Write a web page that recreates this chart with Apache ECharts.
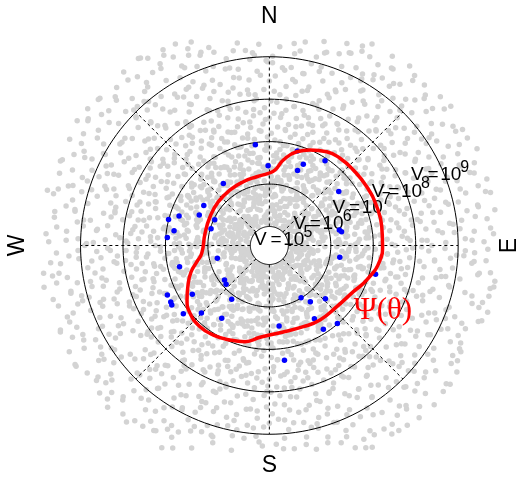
<!DOCTYPE html>
<html><head><meta charset="utf-8">
<script src="https://cdn.jsdelivr.net/npm/echarts@6/dist/echarts.min.js"></script>
<style>html,body{margin:0;padding:0;background:#fff}#c{width:521px;height:477px}</style>
</head><body><div id="c"></div>
<script>
// log10(V) at the pole of the log-polar plot
const POLE_LOGV = 4.5524;
const ringLevels = [5, 6, 7, 8, 9];          // V = 10^k circles
const spokeAngles = [0, 45, 90, 135, 180, 225, 270, 315];
const labelAngle = 22.5;
const compassLabels = ['N', 'E', 'S', 'W'];
const curveLabel = 'Ψ(θ)';

// red closed curve Psi(theta): [angle deg (0 = E, ccw), log10 V]
const psiCurve = [[359.7,7.219],[9.5,7.237],[19.9,7.242],[31.1,7.233],[42.0,7.213],[51.0,7.197],[58.5,7.143],[66.9,6.998],[73.7,6.854],[80.7,6.593],[85.7,6.336],[90.8,6.253],[100.4,6.200],[112.2,6.175],[125.3,6.155],[139.3,6.136],[154.1,6.105],[169.3,6.094],[186.6,6.156],[192.8,6.306],[198.7,6.500],[205.9,6.682],[213.5,6.878],[220.5,7.010],[229.5,7.067],[238.0,7.040],[247.4,6.963],[255.8,6.890],[264.2,6.726],[277.0,6.622],[292.7,6.626],[304.2,6.675],[317.8,6.697],[331.2,6.811],[340.5,6.987],[352.5,7.183]];

// blue events: [angle deg, log10 V]
const bluePoints = [[97.9,6.950],[73.5,6.874],[67.3,6.626],[69.4,6.440],[56.7,6.942],[90.9,6.432],[126.6,6.371],[37.9,6.624],[148.6,6.362],[161.9,6.790],[156.5,6.353],[154.8,5.974],[165.5,7.005],[171.2,6.824],[175.5,6.963],[163.9,5.982],[12.5,6.241],[10.8,6.284],[193.8,5.814],[350.6,6.234],[193.3,6.726],[344.8,7.145],[217.6,5.885],[221.9,5.922],[205.9,7.223],[212.3,6.699],[209.8,7.229],[211.4,7.245],[235.0,6.099],[301.3,5.991],[306.1,6.191],[316.5,6.372],[218.4,7.138],[224.8,6.809],[236.8,6.601],[301.6,6.577],[311.1,6.990],[302.8,6.901],[276.9,6.462],[277.5,7.278]];

// gray background events, flat pairs: angle deg, log10 V
const grayA = [
0,5.31,4,5.41,7,5.59,11,5.26,14,5.53,18,5.58,22,5.97,25,5.93,29,5.23,32,5.84,
36,5.62,40,5.64,43,5.33,47,5.83,50,5.27,54,5.95,58,5.02,61,5.88,65,5.41,68,5.97,
72,5.16,76,5.93,79,5.99,83,5.37,86,5.51,90,5.05,94,5.82,97,5.09,101,5.74,104,5.94,
108,5.45,112,5.92,115,5.30,119,5.78,122,5.16,126,5.40,130,5.62,133,5.86,137,5.20,140,5.89,
144,5.98,148,5.62,151,5.80,155,5.34,158,5.82,162,5.53,166,5.42,169,5.11,173,5.70,176,5.67,
180,5.98,184,5.21,187,5.48,191,5.08,194,5.65,198,5.13,202,5.28,205,5.23,209,5.06,212,5.64,
216,5.70,220,5.93,223,5.84,227,5.46,230,5.09,234,5.55,238,5.05,241,5.82,245,5.23,248,5.17,
252,5.25,256,5.35,259,5.94,263,5.08,266,5.12,270,5.84,274,5.81,277,5.11,281,5.74,284,5.50,
288,5.28,292,5.41,295,5.02,299,5.70,302,5.19,306,5.38,310,5.52,313,5.11,317,5.05,320,5.55,
324,5.96,328,5.44,331,5.62,335,5.29,338,5.48,342,5.95,346,5.49,349,5.30,353,5.38,356,5.19,
2,5.71,5,5.82,9,5.81,13,5.82,16,5.84,20,5.59,23,5.04,27,5.52,31,5.35,34,5.36,
38,5.02,41,5.87,45,5.47,49,5.13,52,5.52,56,5.66,59,5.24,63,5.97,67,5.75,70,5.72,
74,5.47,77,5.09,81,5.36,85,5.99,88,5.95,92,5.95,95,5.74,99,5.96,103,5.69,106,5.67,
110,5.62,113,5.77,117,5.24,121,5.07,124,5.66,128,5.30,131,5.35,135,5.35,139,5.47,142,5.59,
146,5.45,149,5.71,153,5.38,157,5.21,160,5.78,164,5.52,167,5.51,171,5.66,175,5.42,178,5.74,
182,5.27,185,5.46,189,5.63,193,5.91,196,5.93,200,5.20,203,5.03,207,5.05,211,5.99,214,5.21,
218,5.81,221,5.74,225,5.13,229,5.59,232,5.66,236,5.29,239,5.04,243,5.35,247,5.72,250,5.90,
254,5.03,257,5.34,261,5.29,265,5.52,268,5.60,272,5.59,275,5.56,279,5.30,283,5.73,286,5.81,
290,5.32,293,5.32,297,5.86,301,5.27,304,5.94,308,5.34,311,5.90,315,5.76,319,5.32,322,5.33,
326,5.82,329,5.98,333,5.80,337,5.75,340,5.31,344,5.95,347,5.25,351,5.10,355,5.19,358,5.01,
1,5.41,4,5.42,8,5.13,12,5.56,15,5.23,19,5.73,23,5.09,26,5.50,30,5.48,33,5.80,
37,5.16,41,5.88,44,5.72,48,5.42,51,5.09,55,5.69,59,5.80,62,5.78,66,5.56,69,5.96,
73,5.71,77,5.87,80,5.53,84,5.76,87,5.94,91,5.80,95,5.73,98,5.17,102,5.66,105,5.79,
109,5.73,113,5.79,116,5.90,120,5.73,123,5.24,127,5.78,131,5.46,134,5.21,138,5.07,141,5.03,
145,5.88,149,5.50,152,5.38,156,5.75,159,5.34,163,5.32,167,5.76,170,5.41,174,5.57,177,5.27,
181,5.35,185,5.01,188,5.38,192,5.46,195,5.23,199,5.09,203,5.12,206,5.29,210,5.70,213,5.24,
217,5.92,221,5.48,224,5.36,228,5.05,231,5.58,235,5.50,239,5.73,242,5.72,246,5.12,249,5.64,
253,5.41,257,5.21,260,5.49,264,5.70,267,5.99,271,5.93,275,5.58,278,5.31,282,5.41,285,5.32,
289,5.22,293,5.66,296,5.59,300,5.27,303,5.50,307,5.55,311,5.92,314,5.75,318,5.57,321,5.99,
325,5.95,329,5.00,332,5.50,336,5.11,339,5.52,343,5.78,347,5.20,350,5.60,354,5.57,357,5.14,
3,5.73,6,5.20,10,5.50,14,5.80,17,5.75,21,5.68,24,5.87,28,5.72,32,5.93,35,5.52,
39,5.74,42,5.46,46,5.34,50,5.15,53,5.05,57,5.87,60,5.23,64,5.66,68,5.94,71,5.28,
75,5.45,78,5.25,82,5.38,86,5.70,89,5.38,93,5.86,96,5.28,100,5.55,104,5.58,107,5.16,
111,5.97,114,5.94,118,5.51,122,5.93,125,5.30,129,5.16,132,5.90,136,5.88,140,5.00,143,5.37,
147,5.08,150,5.11,154,5.46,158,5.18,161,5.67,165,5.57,168,5.24,172,5.85,176,5.75,179,5.67,
183,5.56,186,5.26,190,5.14,194,5.14,197,5.15,201,5.40,204,5.67,208,5.03,212,5.02,215,5.99,
219,5.69,222,5.94,226,5.50,230,5.94,233,5.99,237,5.89,240,5.52,244,5.47,248,5.88,251,5.11,
255,5.65,258,5.55,262,5.12,266,5.09,269,5.43,273,5.73,276,5.64,280,5.85,284,5.28,287,5.09,
291,5.32,294,5.31,298,5.90,302,5.23,305,5.05,309,5.58,312,5.20,316,5.67,320,5.97,323,5.48,
327,5.20,330,5.10,334,5.10,338,5.84,341,5.67,345,5.49,348,5.23,352,5.26,356,5.50,359,5.15,
1.2,5.36,3.6,5.72,6,5.15,8.4,5.88,10.8,5.51,13.2,5.27,15.6,5.93,18,5.44,20.4,5.60,22.8,5.09,
25.2,5.81,27.6,5.33,30,5.57,32.4,5.19,34.8,5.96,37.2,5.42,39.6,5.70,42,5.25,44.4,5.64,46.8,5.03,
49.2,5.48,51.6,5.85,54,5.12,56.4,5.67,58.8,5.39,61.2,5.90,63.6,5.21,66,5.76,68.4,5.54,70.8,5.31,
73.2,5.07,75.6,5.62,78,5.94,80.4,5.28,82.8,5.73,85.2,5.46,87.6,5.18,90,5.83,92.4,5.35,94.8,5.59,
97.2,5.91,99.6,5.24,102,5.68,104.4,5.41,106.8,5.86,109.2,5.13,111.6,5.55,114,5.79,116.4,5.30,118.8,5.97,
121.2,5.52,123.6,5.16,126,5.74,128.4,5.37,130.8,5.99,133.2,5.63,135.6,5.26,138,5.81,140.4,5.45,142.8,5.10,
145.2,5.69,147.6,5.34,150,5.87,152.4,5.22,154.8,5.58,157.2,5.95,159.6,5.11,162,5.47,164.4,5.71,166.8,5.38,
169.2,5.84,171.6,5.05,174,5.61,176.4,5.29,178.8,5.92,181.2,5.53,183.6,5.17,186,5.76,188.4,5.40,190.8,5.66,
193.2,5.23,195.6,5.78,198,5.49,200.4,5.14,202.8,5.65,205.2,5.32,207.6,5.89,210,5.56,212.4,5.08,214.8,5.73,
217.2,5.43,219.6,5.98,222,5.26,224.4,5.71,226.8,5.35,229.2,5.82,231.6,5.57,234,5.19,236.4,5.64,238.8,5.91,
241.2,5.15,243.6,5.50,246,5.87,248.4,5.33,250.8,5.69,253.2,5.24,255.6,5.77,258,5.42,260.4,5.96,262.8,5.58,
265.2,5.30,267.6,5.63,270,5.04,272.4,5.85,274.8,5.47,277.2,5.18,279.6,5.72,282,5.39,284.4,5.92,286.8,5.27,
289.2,5.75,291.6,5.41,294,5.94,296.4,5.56,298.8,5.12,301.2,5.68,303.6,5.83,306,5.21,308.4,5.49,310.8,5.66,
313.2,5.99,315.6,5.28,318,5.53,320.4,5.16,322.8,5.81,325.2,5.37,327.6,5.60,330,5.88,332.4,5.14,334.8,5.45,
337.2,5.62,339.6,5.09,342,5.79,344.4,5.34,346.8,5.97,349.2,5.51,351.6,5.25,354,5.70,356.4,5.43,358.8,5.86];

const grayB = [
0,6.47,1,6.22,2,6.64,3,6.12,4,6.68,5,6.19,6,6.88,7,6.41,8,6.83,9,6.35,
10,6.95,11,6.40,12,6.63,13,6.07,14,6.72,15,6.91,16,6.53,17,6.05,18,6.20,19,6.86,
20,6.56,21,6.74,22,6.30,23,6.91,24,6.06,25,6.74,26,6.27,27,6.55,28,6.15,29,6.48,
30,6.81,31,6.60,32,6.13,33,6.39,34,6.38,35,6.77,36,6.67,37,6.99,38,6.36,39,6.14,
40,6.26,41,6.60,42,6.92,43,6.47,44,6.98,45,6.43,46,6.82,47,6.24,48,6.28,49,6.11,
50,6.85,51,6.70,52,6.64,53,6.50,54,6.59,55,6.90,56,6.09,57,6.03,58,6.33,59,6.67,
60,6.36,61,6.57,62,6.42,63,6.84,64,6.04,65,6.88,66,6.17,67,6.79,68,6.31,69,6.62,
70,6.45,71,6.75,72,6.95,73,6.18,74,6.02,75,6.48,76,6.71,77,6.58,78,6.25,79,6.36,
80,6.94,81,6.71,82,6.93,83,6.17,84,6.09,85,6.62,86,6.69,87,6.53,88,6.08,89,6.38,
90,6.86,91,6.85,92,6.80,93,6.31,94,6.29,95,6.26,96,6.64,97,6.50,98,6.51,99,6.19,
100,6.76,101,6.07,102,6.77,103,6.14,104,6.63,105,6.42,106,6.97,107,6.97,108,6.98,109,6.43,
110,6.34,111,6.05,112,6.68,113,6.82,114,6.58,115,6.21,116,6.15,117,6.23,118,6.56,119,6.45,
120,6.69,121,6.03,122,6.71,123,6.11,124,6.89,125,6.28,126,6.94,127,6.34,128,6.90,129,6.37,
130,6.66,131,6.55,132,6.72,133,6.12,134,6.10,135,6.16,136,6.80,137,6.66,138,6.50,139,6.47,
140,6.39,141,6.83,142,6.25,143,6.84,144,6.27,145,6.73,146,6.21,147,6.61,148,6.58,149,6.76,
150,6.04,151,6.94,152,6.49,153,6.89,154,6.17,155,6.03,156,6.45,157,6.40,158,6.87,159,6.76,
160,6.63,161,6.32,162,6.33,163,6.86,164,6.68,165,6.57,166,6.31,167,6.14,168,6.12,169,6.09,
170,6.95,171,6.96,172,6.75,173,6.57,174,6.68,175,6.52,176,6.25,177,6.21,178,6.28,179,6.79,
180,6.40,181,6.69,182,6.06,183,6.79,184,6.44,185,6.61,186,6.08,187,6.01,188,6.43,189,6.52,
190,6.87,191,6.89,192,6.87,193,6.35,194,6.18,195,6.30,196,6.78,197,6.73,198,6.65,199,6.16,
200,6.35,201,6.18,202,6.59,203,6.99,204,6.93,205,6.92,206,6.52,207,6.46,208,6.40,209,6.11,
210,6.74,211,6.13,212,6.86,213,6.02,214,6.71,215,6.47,216,6.59,217,6.55,218,6.70,219,6.35,
220,6.24,221,6.22,222,6.81,223,6.98,224,6.58,225,6.26,226,6.37,227,6.04,228,6.63,229,6.66,
230,6.93,231,6.97,232,6.05,233,6.37,234,6.14,235,6.83,236,6.64,237,6.49,238,6.46,239,6.29,
240,6.85,241,6.30,242,6.15,243,6.22,244,6.62,245,6.78,246,6.67,247,6.19,248,6.53,249,6.41,
250,6.91,251,6.91,252,6.10,253,6.54,254,6.40,255,6.78,256,6.07,257,6.67,258,6.54,259,6.77,
260,6.08,261,6.29,262,6.42,263,6.83,264,6.91,265,6.68,266,6.30,267,6.36,268,6.26,269,6.56,
270,6.60,271,6.85,272,6.97,273,6.07,274,6.11,275,6.24,276,6.83,277,6.49,278,6.62,279,6.44,
280,6.73,281,6.12,282,6.71,283,6.38,284,6.88,285,6.15,286,6.96,287,6.45,288,6.99,289,6.20,
290,6.74,291,6.38,292,6.57,293,6.01,294,6.56,295,6.64,296,6.59,297,6.24,298,6.02,299,6.36,
300,6.88,301,6.79,302,6.81,303,6.13,304,6.33,305,6.18,306,6.66,307,6.90,308,6.65,309,6.50,
310,6.45,311,6.49,312,6.32,313,6.16,314,6.93,315,6.77,316,6.61,317,6.27,318,6.03,319,6.84,
320,6.72,321,6.45,322,6.27,323,6.10,324,6.92,325,6.70,326,6.55,327,6.19,328,6.53,329,6.39,
330,6.58,331,6.08,332,6.20,333,6.84,334,6.95,335,6.87,336,6.27,337,6.39,338,6.46,339,6.70,
340,6.67,341,6.68,342,6.41,343,6.22,344,6.05,345,6.96,346,6.81,347,6.76,348,6.06,349,6.48,
350,6.33,351,6.62,352,6.14,353,6.92,354,6.35,355,6.76,356,6.60,357,6.80,358,6.59,359,6.14,
1.5,6.35,4.5,6.90,7.5,6.58,10.5,6.16,13.5,6.79,16.5,6.43,19.5,6.67,22.5,6.02,25.5,6.86,28.5,6.24,
31.5,6.51,34.5,6.75,37.5,6.08,40.5,6.94,43.5,6.39,46.5,6.62,49.5,6.27,52.5,6.83,55.5,6.46,58.5,6.12,
61.5,6.70,64.5,6.33,67.5,6.97,70.5,6.55,73.5,6.21,76.5,6.88,79.5,6.06,82.5,6.49,85.5,6.74,88.5,6.17,
91.5,6.92,94.5,6.41,97.5,6.63,100.5,6.28,103.5,6.85,106.5,6.10,109.5,6.57,112.5,6.36,115.5,6.99,118.5,6.65,
121.5,6.30,124.5,6.78,127.5,6.14,130.5,6.53,133.5,6.87,136.5,6.22,139.5,6.69,142.5,6.04,145.5,6.45,148.5,6.81,
151.5,6.18,154.5,6.60,157.5,6.96,160.5,6.37,163.5,6.73,166.5,6.09,169.5,6.52,172.5,6.84,175.5,6.26,178.5,6.67,
181.5,6.41,184.5,6.95,187.5,6.13,190.5,6.76,193.5,6.32,196.5,6.58,199.5,6.91,202.5,6.20,205.5,6.63,208.5,6.05,
211.5,6.84,214.5,6.47,217.5,6.29,220.5,6.71,223.5,6.11,226.5,6.90,229.5,6.54,232.5,6.38,235.5,6.66,238.5,6.23,
241.5,6.59,244.5,6.02,247.5,6.80,250.5,6.44,253.5,6.17,256.5,6.93,259.5,6.35,262.5,6.68,265.5,6.27,268.5,6.75,
271.5,6.09,274.5,6.62,277.5,6.48,280.5,6.86,283.5,6.31,286.5,6.73,289.5,6.15,292.5,6.99,295.5,6.56,298.5,6.40,
301.5,6.77,304.5,6.21,307.5,6.64,310.5,6.07,313.5,6.89,316.5,6.43,319.5,6.28,322.5,6.82,325.5,6.50,328.5,6.13,
331.5,6.96,334.5,6.37,337.5,6.71,340.5,6.19,343.5,6.55,346.5,6.83,349.5,6.04,352.5,6.66,355.5,6.42,358.5,6.88,
0.9,6.58,2.7,6.21,4.5,6.84,6.3,6.37,8.1,6.92,9.9,6.15,11.7,6.66,13.5,6.43,15.3,6.79,17.1,6.06,
18.9,6.31,20.7,6.74,22.5,6.52,24.3,6.97,26.1,6.18,27.9,6.63,29.7,6.40,31.5,6.87,33.3,6.25,35.1,6.69,
36.9,6.12,38.7,6.88,40.5,6.46,42.3,6.71,44.1,6.34,45.9,6.95,47.7,6.57,49.5,6.09,51.3,6.82,53.1,6.28,
54.9,6.64,56.7,6.39,58.5,6.91,60.3,6.17,62.1,6.53,63.9,6.76,65.7,6.02,67.5,6.48,69.3,6.85,71.1,6.33,
72.9,6.97,74.7,6.26,76.5,6.70,78.3,6.44,80.1,6.11,81.9,6.59,83.7,6.83,85.5,6.36,87.3,6.67,89.1,6.20,
90.9,6.45,92.7,6.81,94.5,6.08,96.3,6.62,98.1,6.30,99.9,6.94,101.7,6.55,103.5,6.23,105.3,6.74,107.1,6.13,
108.9,6.78,110.7,6.50,112.5,6.27,114.3,6.89,116.1,6.41,117.9,6.16,119.7,6.68,121.5,6.99,123.3,6.35,125.1,6.61,
126.9,6.04,128.7,6.73,130.5,6.56,132.3,6.32,134.1,6.86,135.9,6.47,137.7,6.22,139.5,6.65,141.3,6.90,143.1,6.38,
144.9,6.54,146.7,6.19,148.5,6.80,150.3,6.67,152.1,6.03,153.9,6.72,155.7,6.42,157.5,6.93,159.3,6.29,161.1,6.57,
162.9,6.87,164.7,6.34,166.5,6.61,168.3,6.14,170.1,6.49,171.9,6.98,173.7,6.25,175.5,6.76,177.3,6.10,179.1,6.45,
180.9,6.26,182.7,6.63,184.5,6.93,186.3,6.40,188.1,6.77,189.9,6.21,191.7,6.52,193.5,6.84,195.3,6.07,197.1,6.70,
198.9,6.69,200.7,6.08,202.5,6.47,204.3,6.83,206.1,6.24,207.9,6.60,209.7,6.96,211.5,6.37,213.3,6.58,215.1,6.15,
216.9,6.41,218.7,6.90,220.5,6.18,222.3,6.56,224.1,6.72,225.9,6.33,227.7,6.05,229.5,6.81,231.3,6.48,233.1,6.99,
234.9,6.83,236.7,6.27,238.5,6.75,240.3,6.02,242.1,6.44,243.9,6.89,245.7,6.63,247.5,6.17,249.3,6.92,251.1,6.51,
252.9,6.16,254.7,6.52,256.5,6.38,258.3,6.94,260.1,6.66,261.9,6.11,263.7,6.79,265.5,6.43,267.3,6.30,269.1,6.86,
270.9,6.92,272.7,6.45,274.5,6.64,276.3,6.28,278.1,6.85,279.9,6.53,281.7,6.20,283.5,6.71,285.3,6.59,287.1,6.04,
288.9,6.37,290.7,6.99,292.5,6.13,294.3,6.70,296.1,6.19,297.9,6.46,299.7,6.88,301.5,6.32,303.3,6.76,305.1,6.62,
306.9,6.73,308.7,6.06,310.5,6.58,312.3,6.47,314.1,6.91,315.9,6.24,317.7,6.67,319.5,6.14,321.3,6.53,323.1,6.35,
324.9,6.22,326.7,6.68,328.5,6.87,330.3,6.35,332.1,6.60,333.9,6.82,335.7,6.09,337.5,6.55,339.3,6.98,341.1,6.18,
342.9,6.50,344.7,6.31,346.5,6.71,348.3,6.96,350.1,6.12,351.9,6.39,353.7,6.74,355.5,6.27,357.3,6.43,359.1,6.85];

const grayC = [
0,7.52,1,7.18,2,7.87,3,7.33,4,7.69,5,7.04,6,7.75,7,7.41,8,7.96,9,7.27,
10,7.60,11,7.13,12,7.48,13,7.82,14,7.25,15,7.91,16,7.37,17,7.66,18,7.09,19,7.54,
20,7.79,21,7.30,22,7.62,23,7.15,24,7.88,25,7.43,26,7.71,27,7.06,28,7.57,29,7.94,
30,7.21,31,7.68,32,7.39,33,7.85,34,7.12,35,7.50,36,7.77,37,7.34,38,7.99,39,7.46,
40,7.03,41,7.63,42,7.28,43,7.90,44,7.45,45,7.17,46,7.72,47,7.58,48,7.31,49,7.86,
50,7.14,51,7.59,52,7.95,53,7.38,54,7.67,55,7.22,56,7.81,57,7.07,58,7.49,59,7.73,
60,7.36,61,7.84,62,7.10,63,7.53,64,7.26,65,7.92,66,7.64,67,7.19,68,7.78,69,7.41,
70,7.97,71,7.32,72,7.56,73,7.70,74,7.05,75,7.47,76,7.83,77,7.24,78,7.61,79,7.15,
80,7.88,81,7.44,82,7.29,83,7.76,84,7.01,85,7.58,86,7.35,87,7.93,88,7.67,89,7.20,
90,7.55,91,7.11,92,7.80,93,7.42,94,7.69,95,7.27,96,7.98,97,7.63,98,7.08,99,7.37,
100,7.74,101,7.23,102,7.51,103,7.87,104,7.16,105,7.45,106,7.89,107,7.34,108,7.72,109,7.06,
110,7.40,111,7.95,112,7.18,113,7.60,114,7.31,115,7.79,116,7.53,117,7.12,118,7.84,119,7.66,
120,7.28,121,7.71,122,7.02,123,7.49,124,7.91,125,7.35,126,7.76,127,7.57,128,7.20,129,7.83,
130,7.62,131,7.09,132,7.44,133,7.97,134,7.38,135,7.13,136,7.65,137,7.86,138,7.30,139,7.52,
140,7.17,141,7.78,142,7.59,143,7.25,144,7.73,145,7.46,146,7.04,147,7.90,148,7.39,149,7.68,
150,7.85,151,7.33,152,7.14,153,7.62,154,7.94,155,7.21,156,7.50,157,7.77,158,7.08,159,7.43,
160,7.99,161,7.56,162,7.37,163,7.81,164,7.11,165,7.68,166,7.26,167,7.45,168,7.92,169,7.70,
170,7.06,171,7.48,172,7.75,173,7.30,174,7.57,175,7.83,176,7.19,177,7.64,178,7.35,179,7.89,
180,7.24,181,7.67,182,7.93,183,7.12,184,7.42,185,7.70,186,7.96,187,7.03,188,7.58,189,7.31,
190,7.73,191,7.16,192,7.54,193,7.88,194,7.29,195,7.61,196,7.40,197,7.85,198,7.14,199,7.77,
200,7.47,201,7.91,202,7.05,203,7.36,204,7.80,205,7.23,206,7.69,207,7.52,208,7.97,209,7.10,
210,7.63,211,7.38,212,7.82,213,7.17,214,7.55,215,7.94,216,7.32,217,7.76,218,7.44,219,7.01,
220,7.89,221,7.26,222,7.58,223,7.71,224,7.07,225,7.47,226,7.86,227,7.21,228,7.65,229,7.34,
230,7.12,231,7.79,232,7.43,233,7.95,234,7.61,235,7.18,236,7.53,237,7.90,238,7.27,239,7.68,
240,7.50,241,7.04,242,7.87,243,7.39,244,7.74,245,7.33,246,7.08,247,7.62,248,7.81,249,7.45,
250,7.96,251,7.57,252,7.22,253,7.66,254,7.13,255,7.85,256,7.48,257,7.29,258,7.71,259,7.37,
260,7.35,261,7.83,262,7.60,263,7.02,264,7.92,265,7.54,266,7.17,267,7.78,268,7.46,269,7.99,
270,7.70,271,7.19,272,7.41,273,7.89,274,7.25,275,7.64,276,7.93,277,7.11,278,7.56,279,7.80,
280,7.08,281,7.72,282,7.31,283,7.57,284,7.84,285,7.40,286,7.66,287,7.98,288,7.15,289,7.49,
290,7.61,291,7.44,292,7.97,293,7.20,294,7.36,295,7.76,296,7.03,297,7.52,298,7.87,299,7.26,
300,7.82,301,7.10,302,7.68,303,7.47,304,7.99,305,7.15,306,7.58,307,7.34,308,7.73,309,7.91,
310,7.27,311,7.63,312,7.35,313,7.81,314,7.06,315,7.92,316,7.41,317,7.67,318,7.18,319,7.54,
320,7.94,321,7.39,322,7.76,323,7.14,324,7.51,325,7.28,326,7.85,327,7.09,328,7.60,329,7.43,
330,7.45,331,7.88,332,7.02,333,7.73,334,7.32,335,7.69,336,7.21,337,7.96,338,7.37,339,7.75,
340,7.16,341,7.55,342,7.90,343,7.40,344,7.78,345,7.07,346,7.62,347,7.48,348,7.83,349,7.30,
350,7.71,351,7.26,352,7.49,353,7.65,354,7.19,355,7.87,356,7.34,357,7.58,358,7.05,359,7.93,
0.6,7.44,3,7.81,5.4,7.17,7.8,7.63,10.2,7.95,12.6,7.28,15,7.72,17.4,7.06,19.8,7.53,22.2,7.39,
24.6,7.87,27,7.12,29.4,7.58,31.8,7.34,34.2,7.76,36.6,7.91,39,7.23,41.4,7.65,43.8,7.48,46.2,7.02,
48.6,7.61,51,7.29,53.4,7.94,55.8,7.47,58.2,7.15,60.6,7.83,63,7.38,65.4,7.70,67.8,7.09,70.2,7.56,
72.6,7.19,75,7.73,77.4,7.42,79.8,7.88,82.2,7.31,84.6,7.67,87,7.04,89.4,7.96,91.8,7.52,94.2,7.25,
96.6,7.78,99,7.50,101.4,7.13,103.8,7.62,106.2,7.99,108.6,7.36,111,7.84,113.4,7.21,115.8,7.57,118.2,7.43,
120.6,7.33,123,7.92,125.4,7.68,127.8,7.07,130.2,7.45,132.6,7.80,135,7.26,137.4,7.59,139.8,7.14,142.2,7.71,
144.6,7.96,147,7.24,149.4,7.51,151.8,7.85,154.2,7.18,156.6,7.64,159,7.41,161.4,7.77,163.8,7.03,166.2,7.89,
168.6,7.57,171,7.08,173.4,7.79,175.8,7.36,178.2,7.93,180.6,7.12,183,7.69,185.4,7.46,187.8,7.84,190.2,7.30,
192.6,7.11,195,7.66,197.4,7.40,199.8,7.97,202.2,7.54,204.6,7.27,207,7.88,209.4,7.15,211.8,7.72,214.2,7.48,
216.6,7.82,219,7.35,221.4,7.63,223.8,7.20,226.2,7.71,228.6,7.49,231,7.05,233.4,7.91,235.8,7.38,238.2,7.60,
240.6,7.27,243,7.90,245.4,7.16,247.8,7.74,250.2,7.43,252.6,7.98,255,7.57,257.4,7.32,259.8,7.66,262.2,7.13,
264.6,7.69,267,7.03,269.4,7.86,271.8,7.52,274.2,7.25,276.6,7.61,279,7.94,281.4,7.18,283.8,7.45,286.2,7.80,
288.6,7.42,291,7.75,293.4,7.31,295.8,7.89,298.2,7.08,300.6,7.53,303,7.76,305.4,7.64,307.8,7.22,310.2,7.97,
312.6,7.91,315,7.48,317.4,7.65,319.8,7.14,322.2,7.82,324.6,7.37,327,7.19,329.4,7.73,331.8,7.56,334.2,7.04,
336.6,7.16,339,7.59,341.4,7.98,343.8,7.41,346.2,7.67,348.6,7.23,351,7.85,353.4,7.50,355.8,7.34,358.2,7.78];

const grayD = [
0,8.38,1,8.71,2,8.15,4,8.92,5,8.54,6,8.26,7,8.83,8,8.47,10,8.09,11,8.66,
12,8.21,13,8.88,14,8.43,16,8.60,17,8.12,18,8.79,19,8.35,20,8.97,22,8.58,23,8.04,
24,8.74,25,8.30,26,8.66,28,8.19,29,8.85,30,8.51,31,8.02,32,8.69,34,8.41,35,8.93,
36,8.17,37,8.56,38,8.89,40,8.33,41,8.76,42,8.08,43,8.62,44,8.45,46,8.98,47,8.24,
48,8.80,49,8.13,50,8.49,52,8.71,53,8.37,54,8.94,55,8.22,56,8.57,58,8.06,59,8.83,
60,8.45,61,8.99,62,8.28,64,8.64,65,8.10,66,8.75,67,8.53,68,8.31,70,8.87,71,8.16,
72,8.63,73,8.05,74,8.82,76,8.40,77,8.95,78,8.27,79,8.68,80,8.14,82,8.50,83,8.78,
84,8.32,85,8.70,86,8.11,88,8.55,89,8.86,90,8.43,91,8.91,92,8.23,94,8.67,95,8.02,
96,8.96,97,8.48,98,8.25,100,8.77,101,8.18,102,8.60,103,8.36,104,8.84,106,8.09,107,8.52,
108,8.14,109,8.67,110,8.93,112,8.29,113,8.58,114,8.03,115,8.81,116,8.46,118,8.72,119,8.35,
120,8.59,121,8.22,122,8.76,124,8.07,125,8.44,126,8.89,127,8.15,128,8.63,130,8.98,131,8.30,
132,8.85,133,8.41,134,8.57,136,8.92,137,8.26,138,8.71,139,8.04,140,8.38,142,8.65,143,8.19,
144,8.02,145,8.79,146,8.34,148,8.68,149,8.13,150,8.50,151,8.97,152,8.21,154,8.83,155,8.47,
156,8.73,157,8.16,158,8.88,160,8.45,161,8.61,162,8.35,163,8.09,164,8.77,166,8.28,167,8.94,
168,8.27,169,8.53,170,8.06,172,8.81,173,8.39,174,8.96,175,8.64,176,8.18,178,8.42,179,8.70,
180,8.90,181,8.36,182,8.62,184,8.14,185,8.75,186,8.23,187,8.86,188,8.51,190,8.03,191,8.57,
192,8.48,193,8.84,194,8.19,196,8.97,197,8.30,198,8.66,199,8.42,200,8.73,202,8.11,203,8.89,
204,8.65,205,8.08,206,8.44,208,8.58,209,8.87,210,8.12,211,8.78,212,8.34,214,8.95,215,8.25,
216,8.11,217,8.92,218,8.71,220,8.37,221,8.02,222,8.54,223,8.27,224,8.88,226,8.61,227,8.43,
228,8.76,229,8.29,230,8.50,232,8.83,233,8.64,234,8.40,235,8.17,236,8.06,238,8.79,239,8.99,
240,8.33,241,8.60,242,8.94,244,8.20,245,8.48,246,8.85,247,8.70,248,8.55,250,8.24,251,8.13,
252,8.57,253,8.04,254,8.39,256,8.72,257,8.91,258,8.18,259,8.61,260,8.96,262,8.45,263,8.82,
264,8.20,265,8.87,266,8.63,268,8.09,269,8.36,270,8.74,271,8.52,272,8.29,274,8.10,275,8.68,
276,8.91,277,8.46,278,8.15,280,8.54,281,8.80,282,8.01,283,8.95,284,8.43,286,8.77,287,8.37,
288,8.42,289,8.75,290,8.99,292,8.31,293,8.67,294,8.24,295,8.13,296,8.86,298,8.56,299,8.06,
300,8.69,301,8.18,302,8.53,304,8.87,305,8.05,306,8.62,307,8.38,308,8.72,310,8.92,311,8.28,
312,8.08,313,8.94,314,8.32,316,8.47,317,8.73,318,8.96,319,8.20,320,8.59,322,8.35,323,8.84,
324,8.50,325,8.27,326,8.81,328,8.16,329,8.43,330,8.58,331,8.89,332,8.07,334,8.66,335,8.12,
336,8.86,337,8.63,338,8.04,340,8.98,341,8.22,342,8.35,343,8.74,344,8.49,346,8.17,347,8.91,
348,8.24,349,8.55,350,8.77,352,8.61,353,8.90,354,8.11,355,8.46,356,8.83,358,8.31,359,8.69,
1.8,8.27,4.2,8.64,6.6,8.91,9,8.15,11.4,8.48,13.8,8.83,16.2,8.36,18.6,8.70,21,8.05,23.4,8.59,
25.8,8.72,28.2,8.18,30.6,8.55,33,8.96,35.4,8.33,37.8,8.67,40.2,8.09,42.6,8.44,45,8.81,47.4,8.26,
49.8,8.40,52.2,8.87,54.6,8.13,57,8.61,59.4,8.78,61.8,8.22,64.2,8.95,66.6,8.50,69,8.37,71.4,8.04,
73.8,8.93,76.2,8.31,78.6,8.68,81,8.46,83.4,8.02,85.8,8.75,88.2,8.19,90.6,8.88,93,8.57,95.4,8.12,
97.8,8.15,100.2,8.56,102.6,8.84,105,8.29,107.4,8.97,109.8,8.41,112.2,8.63,114.6,8.07,117,8.74,119.4,8.38,
121.8,8.66,124.2,8.03,126.6,8.47,129,8.82,131.4,8.24,133.8,8.59,136.2,8.90,138.6,8.35,141,8.16,143.4,8.79,
145.8,8.81,148.2,8.45,150.6,8.20,153,8.73,155.4,8.58,157.8,8.11,160.2,8.67,162.6,8.94,165,8.42,167.4,8.28,
169.8,8.34,172.2,8.97,174.6,8.62,177,8.08,179.4,8.86,181.8,8.30,184.2,8.53,186.6,8.17,189,8.71,191.4,8.85,
193.8,8.58,196.2,8.22,198.6,8.76,201,8.39,203.4,8.14,205.8,8.92,208.2,8.45,210.6,8.63,213,8.99,215.4,8.06,
217.8,8.07,220.2,8.70,222.6,8.35,225,8.87,227.4,8.51,229.8,8.26,232.2,8.81,234.6,8.02,237,8.48,239.4,8.64,
241.8,8.89,244.2,8.14,246.6,8.56,249,8.23,251.4,8.68,253.8,8.95,256.2,8.37,258.6,8.76,261,8.10,263.4,8.43,
265.8,8.46,268.2,8.83,270.6,8.01,273,8.65,275.4,8.32,277.8,8.77,280.2,8.18,282.6,8.52,285,8.90,287.4,8.21,
289.8,8.63,292.2,8.28,294.6,8.94,297,8.47,299.4,8.11,301.8,8.54,304.2,8.86,306.6,8.39,309,8.25,311.4,8.71,
313.8,8.19,316.2,8.58,318.6,8.72,321,8.96,323.4,8.43,325.8,8.08,328.2,8.61,330.6,8.84,333,8.33,335.4,8.50,
337.8,8.76,340.2,8.39,342.6,8.10,345,8.54,347.4,8.88,349.8,8.67,352.2,8.23,354.6,8.46,357,8.97,359.4,8.14];

const grayE = [
1,9.61,2,9.17,3,9.84,4,9.39,5,9.06,7,9.72,8,9.45,9,9.93,10,9.28,11,9.55,
13,9.12,14,9.80,15,9.34,16,9.67,17,9.91,19,9.23,20,9.58,21,9.04,22,9.76,23,9.41,
25,9.95,26,9.49,27,9.15,28,9.62,29,9.37,31,9.86,32,9.20,33,9.71,34,9.09,35,9.53,
37,9.33,38,9.78,39,9.02,40,9.57,41,9.89,43,9.14,44,9.66,45,9.40,46,9.81,47,9.26,
49,9.70,50,9.08,51,9.44,52,9.92,53,9.25,55,9.63,56,9.31,57,9.87,58,9.16,59,9.52,
61,9.04,62,9.59,63,9.88,64,9.21,65,9.74,67,9.47,68,9.10,69,9.65,70,9.36,71,9.94,
73,9.82,74,9.27,75,9.53,76,9.13,77,9.68,79,9.96,80,9.42,81,9.19,82,9.77,83,9.35,
85,9.46,86,9.90,87,9.24,88,9.75,89,9.01,91,9.56,92,9.83,93,9.30,94,9.62,95,9.11,
97,9.18,98,9.64,99,9.38,100,9.85,101,9.50,103,9.07,104,9.73,105,9.95,106,9.29,107,9.43,
109,9.87,110,9.32,111,9.69,112,9.10,113,9.42,115,9.79,116,9.26,117,9.54,118,9.03,119,9.68,
121,9.55,122,9.14,123,9.81,124,9.47,125,9.93,127,9.36,128,9.60,129,9.22,130,9.89,131,9.05,
133,9.29,134,9.73,135,9.07,136,9.60,137,9.18,139,9.84,140,9.49,141,9.12,142,9.57,143,9.91,
145,9.76,146,9.41,147,9.95,148,9.33,149,9.66,151,9.02,152,9.88,153,9.45,154,9.20,155,9.63,
157,9.09,158,9.86,159,9.52,160,9.24,161,9.78,163,9.39,164,9.15,165,9.70,166,9.94,167,9.31,
169,9.43,170,9.20,171,9.67,172,9.96,173,9.11,175,9.58,176,9.34,177,9.82,178,9.06,179,9.75,
181,9.92,182,9.57,183,9.28,184,9.05,185,9.49,187,9.91,188,9.71,189,9.37,190,9.64,191,9.16,
193,9.35,194,9.80,195,9.13,196,9.72,197,9.27,199,9.44,200,9.03,201,9.59,202,9.86,203,9.48,
205,9.67,206,9.03,207,9.46,208,9.89,209,9.54,211,9.19,212,9.92,213,9.26,214,9.40,215,9.79,
217,9.14,218,9.72,219,9.36,220,9.58,221,9.85,223,9.63,224,9.08,225,9.94,226,9.51,227,9.23,
229,9.81,230,9.25,231,9.90,232,9.17,233,9.40,235,9.75,236,9.55,237,9.11,238,9.69,239,9.37,
241,9.50,242,9.95,243,9.62,244,9.44,245,9.08,247,9.30,248,9.87,249,9.66,250,9.22,251,9.04,
253,9.23,254,9.39,255,9.74,256,9.83,257,9.61,259,9.12,260,9.46,261,9.77,262,9.90,263,9.58,
265,9.69,266,9.06,267,9.19,268,9.28,269,9.94,271,9.85,272,9.24,273,9.53,274,9.35,275,9.82,
277,9.38,278,9.83,279,9.57,280,9.68,281,9.15,283,9.48,284,9.79,285,9.01,286,9.73,287,9.27,
289,9.96,290,9.50,291,9.01,292,9.41,293,9.73,295,9.21,296,9.63,297,9.89,298,9.12,299,9.65,
301,9.02,302,9.65,303,9.85,304,9.30,305,9.87,307,9.56,308,9.17,309,9.42,310,9.58,311,9.93,
313,9.74,314,9.18,315,9.40,316,9.95,317,9.32,319,9.07,320,9.90,321,9.29,322,9.84,323,9.46,
325,9.27,326,9.88,327,9.66,328,9.12,329,9.59,331,9.71,332,9.38,333,9.61,334,9.05,335,9.19,
337,9.57,338,9.44,339,9.23,340,9.79,341,9.03,343,9.93,344,9.52,345,9.75,346,9.47,347,9.86,
349,9.85,350,9.11,351,9.93,352,9.51,353,9.80,355,9.34,356,9.67,357,9.14,358,9.39,359,9.70,
1.5,9.33,4.5,9.78,7.5,9.12,10.5,9.56,13.5,9.91,16.5,9.24,19.5,9.67,22.5,9.45,25.5,9.03,28.5,9.86,
31.5,9.70,34.5,9.19,37.5,9.94,40.5,9.41,43.5,9.58,46.5,9.08,49.5,9.82,52.5,9.36,55.5,9.63,58.5,9.27,
61.5,9.15,64.5,9.62,67.5,9.47,70.5,9.89,73.5,9.30,76.5,9.75,79.5,9.53,82.5,9.11,85.5,9.96,88.5,9.40,
91.5,9.88,94.5,9.05,97.5,9.71,100.5,9.22,103.5,9.64,106.5,9.93,109.5,9.38,112.5,9.57,115.5,9.19,118.5,9.80,
121.5,9.44,124.5,9.91,127.5,9.26,130.5,9.68,133.5,9.07,136.5,9.52,139.5,9.85,142.5,9.31,145.5,9.74,148.5,9.13,
151.5,9.59,154.5,9.37,157.5,9.83,160.5,9.10,163.5,9.49,166.5,9.78,169.5,9.21,172.5,9.66,175.5,9.95,178.5,9.34,
181.5,9.06,184.5,9.72,187.5,9.55,190.5,9.95,193.5,9.36,196.5,9.14,199.5,9.60,202.5,9.88,205.5,9.42,208.5,9.21,
211.5,9.92,214.5,9.28,217.5,9.64,220.5,9.43,223.5,9.81,226.5,9.57,229.5,9.02,232.5,9.76,235.5,9.29,238.5,9.67,
241.5,9.38,244.5,9.84,247.5,9.17,250.5,9.73,253.5,9.25,256.5,9.96,259.5,9.46,262.5,9.13,265.5,9.58,268.5,9.90,
271.5,9.77,274.5,9.11,277.5,9.60,280.5,9.32,283.5,9.94,286.5,9.40,289.5,9.71,292.5,9.27,295.5,9.83,298.5,9.52,
301.5,9.23,304.5,9.66,307.5,9.89,310.5,9.51,313.5,9.16,316.5,9.62,319.5,9.35,322.5,9.92,325.5,9.08,328.5,9.75,
331.5,9.65,334.5,9.48,337.5,9.04,340.5,9.86,343.5,9.70,346.5,9.29,349.5,9.93,352.5,9.54,355.5,9.39,358.5,9.17];

// ---------- helpers: log-polar -> plane coordinates (units of log10 V) ----------
function toPlane(angleDeg, logV) {
  const r = logV - POLE_LOGV, t = angleDeg * Math.PI / 180;
  return [r * Math.cos(t), r * Math.sin(t)];
}
function pairsToPlane(flat) {
  const out = [];
  for (let i = 0; i < flat.length; i += 2) out.push(toPlane(flat[i], flat[i + 1]));
  return out;
}
function circlePts(level) {
  const out = [];
  for (let a = 0; a <= 360; a += 2) out.push(toPlane(a, level));
  return out;
}

const FONT = '"Liberation Sans", Arial, Helvetica, sans-serif';
const grayData = pairsToPlane([].concat(grayA, grayB, grayC, grayD, grayE));
const series = [];

series.push({
  type: 'scatter', data: grayData, symbol: 'circle', symbolSize: 5.5, z: 1,
  itemStyle: { color: '#d3d3d3', opacity: 1 }, silent: true, large: false, progressive: 0, clip: true
});

ringLevels.slice(1).forEach(function (k) {
  series.push({
    type: 'line', data: circlePts(k), showSymbol: false, symbol: 'none', z: 2, silent: true,
    lineStyle: { color: '#000', width: 1 }, clip: false
  });
});

spokeAngles.forEach(function (a) {
  series.push({
    type: 'line', data: [toPlane(a, ringLevels[0]), toPlane(a, ringLevels[ringLevels.length - 1])],
    showSymbol: false, symbol: 'none', z: 2, silent: true,
    lineStyle: { color: '#000', width: 1, type: [3, 3] }
  });
});

// inner white disc V = 10^5
series.push({
  type: 'custom', coordinateSystem: 'cartesian2d', data: [[0, 0]], z: 3, silent: true,
  renderItem: function (params, api) {
    const pts = [];
    for (let a = 0; a < 360; a += 3) pts.push(api.coord(toPlane(a, ringLevels[0])));
    return { type: 'polygon', shape: { points: pts }, style: { fill: '#fff', stroke: '#000', lineWidth: 1 } };
  }
});

// level labels V = 10^k : base text right-aligned, exponent left-aligned at the same junction
const labelAnchors = ringLevels.map(function (k) { return { value: toPlane(labelAngle, k), name: String(k) }; });
series.push({
  type: 'scatter', z: 4, silent: true, symbolSize: 0,
  itemStyle: { color: '#000', opacity: 1 }, data: labelAnchors,
  label: {
    show: true, position: 'inside', offset: [17.5, 2], align: 'right', verticalAlign: 'middle',
    formatter: 'V\u2009=\u200A10', fontSize: 19, fontFamily: FONT, color: '#000', opacity: 1, textBorderWidth: 0
  }
});
series.push({
  type: 'scatter', z: 4, silent: true, symbolSize: 0,
  itemStyle: { color: '#000', opacity: 1 }, data: labelAnchors,
  label: {
    show: true, position: 'inside', offset: [16.5, -5.7], align: 'left', verticalAlign: 'middle',
    formatter: function (p) { return p.name; }, fontSize: 16, fontFamily: FONT, color: '#000', opacity: 1, textBorderWidth: 0
  }
});

series.push({
  type: 'scatter', z: 5, silent: true, symbolSize: 5.5,
  itemStyle: { color: '#0000ff', opacity: 1 },
  data: bluePoints.map(function (p) { return toPlane(p[0], p[1]); })
});

const curvePts = psiCurve.map(function (p) { return toPlane(p[0], p[1]); });
series.push({
  type: 'line', z: 6, silent: true, smooth: 0.5, showSymbol: false, symbol: 'none',
  data: curvePts.concat([curvePts[0], curvePts[1]]),
  lineStyle: { color: '#ff0000', width: 3.5, opacity: 1 }
});

function txt(text, x, y, size, family, color, rot) {
  return {
    type: 'text', x: x, y: y, rotation: rot || 0, silent: true, z: 10,
    style: { text: text, fontSize: size, fontFamily: family, fill: color,
      align: 'center', verticalAlign: 'middle', textAlign: 'center', textVerticalAlign: 'middle' }
  };
}

const chart = echarts.init(document.getElementById('c'), null, { renderer: 'canvas' });
chart.setOption({
  animation: false,
  backgroundColor: '#fff',
  grid: { left: 43.5, right: 25.8, top: 40.5, bottom: 26.5, show: false },
  xAxis: { type: 'value', min: -5.32, max: 5.32, show: false },
  yAxis: { type: 'value', min: -4.83, max: 4.83, show: false },
  series: series,
  graphic: [
    txt(compassLabels[0], 269.3, 17, 23, FONT, '#000'),
    txt(compassLabels[1], 510, 245.5, 23, FONT, '#000', Math.PI / 2),
    txt(compassLabels[2], 269.3, 466, 23, FONT, '#000'),
    txt(compassLabels[3], 18, 245.5, 23, FONT, '#000', Math.PI / 2),
    txt(curveLabel, 383, 311, 31, '"Liberation Serif", "Times New Roman", serif', '#ff0000')
  ]
});
</script>
</body></html>
